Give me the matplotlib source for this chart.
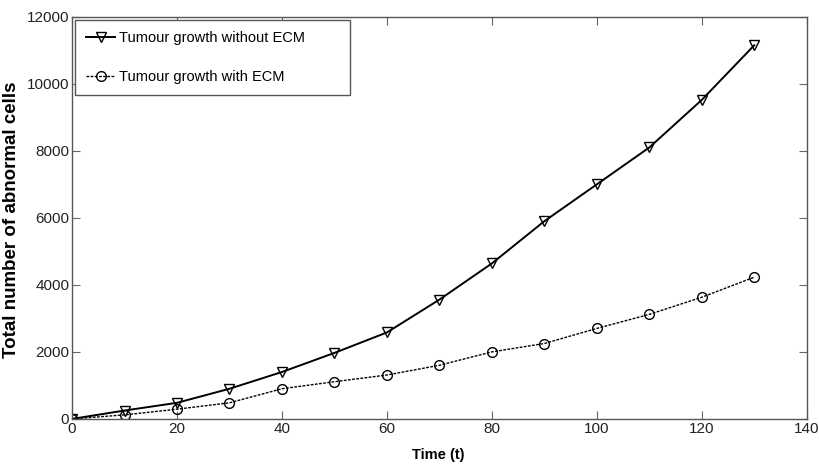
import matplotlib
matplotlib.use("Agg")
import matplotlib.pyplot as plt

t = [0, 10, 20, 30, 40, 50, 60, 70, 80, 90, 100, 110, 120, 130]
without_ecm = [0, 250, 480, 900, 1400, 1970, 2580, 3560, 4640, 5900, 7000, 8100, 9520, 11150]
with_ecm = [0, 120, 290, 480, 900, 1110, 1310, 1600, 2000, 2250, 2700, 3120, 3630, 4230]

font = 'Liberation Sans'

fig = plt.figure(figsize=(8.19, 4.67), dpi=100)
ax = fig.add_axes([0.088, 0.103, 0.897, 0.861])

ax.plot(t, without_ecm, '-', color='black', lw=1.4, marker='v', markersize=7,
        markerfacecolor='none', markeredgewidth=1.0, label='Tumour growth without ECM')
ax.plot(t, with_ecm, '--', color='black', lw=1.0, dashes=(2, 1), marker='o', markersize=7,
        markerfacecolor='none', markeredgewidth=1.0, label='Tumour growth with ECM')

ax.set_xlim(0, 140)
ax.set_ylim(0, 12000)
ax.set_xticks(range(0, 141, 20))
ax.set_yticks(range(0, 12001, 2000))
ax.tick_params(direction='in', top=True, right=True, length=6, color='#666666',
               labelsize=11, labelcolor='#222222', pad=2)
for lab in ax.get_xticklabels() + ax.get_yticklabels():
    lab.set_family(font)
for s in ax.spines.values():
    s.set_color('#555555')
    s.set_linewidth(1.0)

ax.set_xlabel('Time (t)', family=font, fontweight='bold', fontsize=10.5)
ax.xaxis.set_label_coords(0.499, -0.072)
ax.set_ylabel('Total number of abnormal cells', family=font, fontweight='bold', fontsize=13.5)
ax.yaxis.set_label_coords(-0.071, 0.495)

leg = ax.legend(loc='upper left', bbox_to_anchor=(0.004, 0.9925, 0.374, 0), mode='expand',
                prop={'family': font, 'size': 10.5}, fancybox=False, framealpha=1,
                edgecolor='#555555', borderaxespad=0, handlelength=2.0,
                handletextpad=0.3, labelspacing=1.75, borderpad=0.75)
leg.get_frame().set_linewidth(1.0)

fig.savefig('out.png', dpi=100)
